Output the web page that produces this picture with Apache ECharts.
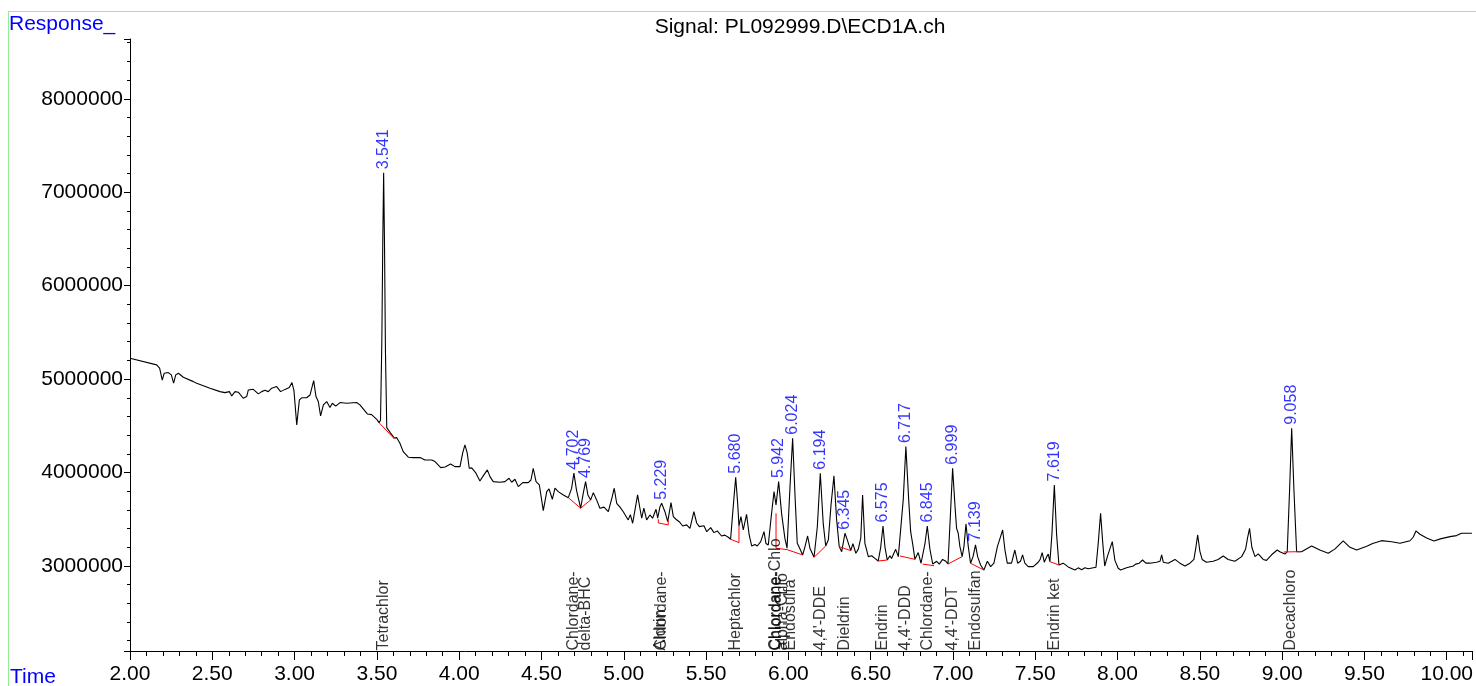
<!DOCTYPE html>
<html>
<head>
<meta charset="utf-8">
<script src="https://cdn.jsdelivr.net/npm/echarts@6/dist/echarts.min.js"></script>
<style>
html,body{margin:0;padding:0;background:#fff;}
#chart{width:1476px;height:686px;}
</style>
</head>
<body>
<div id="chart"></div>
<script>
// Chromatogram trace: [time (min), response]
const trace = [
[2.000,5224000],[2.162,5152000],[2.180,5117000],[2.196,4990000],[2.208,5063000],[2.233,5070000],[2.251,5045000],[2.265,4956000],[2.278,5045000],[2.294,5063000],[2.324,5020000],[2.385,4973000],[2.405,4956000],[2.486,4903000],[2.547,4866000],[2.577,4855000],[2.604,4866000],[2.618,4820000],[2.638,4866000],[2.658,4860000],[2.688,4795000],[2.709,4813000],[2.719,4884000],[2.749,4891000],[2.780,4842000],[2.800,4866000],[2.820,4880000],[2.840,4866000],[2.861,4903000],[2.891,4920000],[2.915,4866000],[2.942,4890000],[2.968,4910000],[2.984,4963000],[2.996,4880000],[3.013,4510000],[3.029,4777000],[3.043,4800000],[3.073,4800000],[3.094,4830000],[3.104,4810000],[3.116,4984000],[3.130,4813000],[3.144,4760000],[3.158,4606000],[3.175,4724000],[3.195,4760000],[3.215,4695000],[3.229,4742000],[3.250,4710000],[3.276,4749000],[3.317,4742000],[3.377,4749000],[3.397,4724000],[3.442,4627000],[3.468,4620000],[3.499,4570000],[3.513,4534000],[3.522,4560000],[3.530,5400000],[3.536,6500000],[3.541,7208000],[3.546,6500000],[3.552,5300000],[3.560,4480000],[3.580,4430000],[3.606,4370000],[3.620,4374000],
[3.640,4314000],[3.660,4224000],[3.691,4164000],[3.721,4160000],[3.762,4160000],[3.792,4135000],[3.833,4135000],[3.853,4117000],[3.865,4130000],[3.888,4053000],[3.914,4060000],[3.948,4092000],[3.974,4063000],[4.005,4063000],[4.021,4207000],[4.035,4296000],[4.049,4207000],[4.061,4046000],[4.076,4050000],[4.102,3993000],[4.126,3910000],[4.146,3964000],[4.171,4028000],[4.187,3956000],[4.207,3903000],[4.248,3896000],[4.278,3903000],[4.303,3939000],[4.319,3896000],[4.339,3928000],[4.359,3849000],[4.386,3892000],[4.420,3892000],[4.436,3920000],[4.450,4046000],[4.467,3903000],[4.487,3867000],[4.511,3592000],[4.532,3796000],[4.546,3824000],[4.566,3714000],[4.582,3832000],[4.602,3796000],[4.633,3760000],[4.663,3731000],[4.683,3830000],[4.697,3993000],[4.713,3810000],[4.738,3618000],[4.754,3780000],[4.768,3903000],[4.782,3760000],[4.799,3707000],[4.815,3785000],[4.835,3707000],[4.855,3618000],[4.880,3630000],[4.906,3581000],[4.930,3742000],[4.942,3832000],[4.957,3671000],[4.977,3630000],[4.997,3580000],[5.027,3493000],[5.040,3550000],[5.054,3457000],[5.070,3620000],[5.084,3760000],
[5.098,3618000],[5.109,3511000],[5.122,3618000],[5.139,3493000],[5.159,3546000],[5.175,3511000],[5.196,3607000],[5.206,3511000],[5.220,3635000],[5.230,3671000],[5.250,3581000],[5.267,3474000],[5.287,3678000],[5.301,3528000],[5.317,3500000],[5.337,3474000],[5.358,3428000],[5.382,3440000],[5.402,3403000],[5.426,3581000],[5.443,3460000],[5.459,3421000],[5.487,3430000],[5.504,3367000],[5.528,3410000],[5.548,3357000],[5.568,3375000],[5.594,3321000],[5.614,3330000],[5.635,3307000],[5.649,3286000],[5.665,3635000],[5.680,3950000],[5.692,3670000],[5.700,3428000],[5.712,3528000],[5.726,3385000],[5.746,3553000],[5.762,3332000],[5.777,3214000],[5.797,3230000],[5.811,3214000],[5.832,3260000],[5.852,3367000],[5.864,3240000],[5.878,3225000],[5.898,3564000],[5.913,3796000],[5.925,3653000],[5.941,3903000],[5.959,3560000],[5.979,3296000],[5.992,3190000],[6.010,3849000],[6.026,4367000],[6.042,3690000],[6.054,3243000],[6.066,3200000],[6.087,3118000],[6.100,3200000],[6.117,3321000],[6.131,3190000],[6.156,3093000],[6.176,3420000],[6.194,3993000],[6.212,3450000],[6.227,3214000],[6.243,3280000],[6.259,3650000],[6.277,3964000],[6.293,3500000],[6.309,3207000],[6.324,3153000],[6.344,3350000],[6.358,3280000],[6.379,3164000],[6.392,3240000],[6.410,3136000],[6.425,3180000],[6.440,3300000],[6.451,3760000],
[6.465,3243000],[6.486,3100000],[6.506,3110000],[6.526,3082000],[6.546,3053000],[6.561,3200000],[6.575,3428000],[6.587,3200000],[6.601,3064000],[6.617,3110000],[6.627,3080000],[6.652,3178000],[6.668,3100000],[6.678,3107000],[6.698,3710000],[6.714,4278000],[6.731,3710000],[6.743,3367000],[6.755,3240000],[6.769,3071000],[6.789,3143000],[6.806,3029000],[6.816,3020000],[6.830,3240000],[6.844,3428000],[6.860,3180000],[6.877,3021000],[6.885,3003000],[6.901,3050000],[6.917,3020000],[6.937,3070000],[6.957,3050000],[6.970,3021000],[6.986,3600000],[6.998,4046000],[7.014,3600000],[7.022,3403000],[7.032,3350000],[7.042,3210000],[7.056,3100000],[7.067,3210000],[7.079,3450000],[7.093,3210000],[7.107,3029000],[7.122,3100000],[7.137,3225000],[7.150,3100000],[7.168,3010000],[7.188,2957000],[7.209,3050000],[7.229,2993000],[7.249,3030000],[7.270,3207000],[7.282,3190000],[7.302,3385000],[7.316,3170000],[7.330,3030000],[7.356,3030000],[7.376,3171000],[7.393,3030000],[7.410,3050000],[7.423,3118000],[7.437,3030000],[7.457,2993000],[7.488,2993000],[7.518,3040000],[7.530,3070000],[7.542,3143000],[7.555,3040000],[7.570,3100000],[7.579,3128000],[7.589,3046000],[7.601,3330000],[7.616,3867000],[7.630,3330000],[7.644,3011000],[7.670,3030000],[7.700,2990000],
[7.741,2957000],[7.761,2980000],[7.782,2960000],[7.802,2980000],[7.822,2970000],[7.869,2986000],[7.883,3250000],[7.897,3564000],[7.910,3250000],[7.922,3000000],[7.940,3110000],[7.968,3260000],[7.984,3060000],[8.004,2975000],[8.019,2957000],[8.055,2980000],[8.096,3000000],[8.110,3020000],[8.120,3000000],[8.132,3030000],[8.142,3015000],[8.152,3064000],[8.172,3030000],[8.197,3030000],[8.237,3040000],[8.258,3050000],[8.268,3118000],[8.278,3040000],[8.308,3030000],[8.349,3070000],[8.379,3030000],[8.410,3000000],[8.440,3030000],[8.464,3070000],[8.476,3200000],[8.487,3332000],[8.500,3160000],[8.514,3070000],[8.540,3040000],[8.581,3050000],[8.611,3070000],[8.642,3107000],[8.672,3070000],[8.713,3050000],[8.754,3100000],[8.778,3180000],[8.790,3300000],[8.802,3403000],[8.816,3200000],[8.835,3100000],[8.855,3130000],[8.865,3125000],[8.885,3070000],[8.905,3060000],[8.936,3120000],[8.970,3171000],[8.986,3153000],[9.017,3128000],[9.031,3153000],[9.045,3800000],[9.058,4474000],[9.072,3800000],[9.088,3153000],[9.118,3153000],[9.179,3214000],[9.229,3170000],[9.280,3136000],[9.320,3180000],[9.371,3268000],[9.412,3200000],[9.453,3171000],[9.514,3210000],[9.550,3240000],[9.604,3271000],[9.665,3260000],[9.716,3243000],[9.777,3270000],[9.797,3310000],[9.813,3375000],[9.837,3340000],[9.878,3300000],[9.922,3268000],[9.962,3290000],[10.020,3314000],[10.060,3325000],[10.090,3350000],[10.153,3350000]
];

// Integration baselines (red)
const baselines = [
[[3.513,4534000],[3.606,4360000]],
[[4.663,3731000],[4.738,3618000],[4.799,3707000]],
[[5.210,3500000],[5.210,3460000],[5.270,3440000],[5.270,3490000]],
[[5.649,3286000],[5.700,3250000],[5.700,3428000]],
[[5.925,3564000],[5.925,3190000],[5.992,3175000],[6.087,3118000]],
[[6.156,3093000],[6.227,3214000]],
[[6.309,3207000],[6.379,3164000]],
[[6.546,3053000],[6.601,3064000]],
[[6.678,3107000],[6.769,3071000]],
[[6.816,3020000],[6.885,3003000]],
[[6.970,3021000],[7.056,3100000]],
[[7.107,3029000],[7.188,2957000]],
[[7.589,3046000],[7.644,3011000]],
[[9.010,3150000],[9.110,3153000]]
];

// Retention time labels
const peakTimes   = [3.541,4.697,4.768,5.230,5.680,5.941,6.026,6.194,6.344,6.575,6.714,6.844,6.998,7.137,7.616,9.058];
const peakHeights = [7208000,3993000,3903000,3671000,3950000,3903000,4367000,3993000,3350000,3428000,4278000,3428000,4046000,3225000,3867000,4474000];
const peakTexts   = ['3.541','4.702','4.769','5.229','5.680','5.942','6.024','6.194','6.345','6.575','6.717','6.845','6.999','7.139','7.619','9.058'];

// Compound names
const compoundTimes = [3.541,4.697,4.768,5.222,5.229,5.680,5.925,5.930,5.965,6.014,6.194,6.344,6.575,6.714,6.844,6.998,7.137,7.616,9.052];
const compoundTexts = ['Tetrachlor','Chlordane-','delta-BHC','Aldrin','Chlordane-','Heptachlor','Chlordane-Chlo','Chlordane-','alpha-Chlo','Endosulfa','4,4\'-DDE','Dieldrin','Endrin','4,4\'-DDD','Chlordane-','4,4\'-DDT','Endosulfan','Endrin ket','Decachloro'];

const xTicks = {min: 2.0, max: 10.153, interval: 0.5};
const yRange = {min: 2090000, max: 8640000};

const FONT = 'Liberation Sans, Arial, sans-serif';
const chart = echarts.init(document.getElementById('chart'), null, {renderer: 'canvas'});

const series = [{
  type: 'line', data: trace, showSymbol: false, symbol: 'none', silent: true,
  lineStyle: {color: '#000', width: 1.1}, z: 3
}];
baselines.forEach(b => series.push({
  type: 'line', data: b, showSymbol: false, symbol: 'none', silent: true,
  lineStyle: {color: '#ff0000', width: 1}, z: 4
}));
series.push({
  type: 'scatter', silent: true, symbolSize: 1, itemStyle: {color: 'rgba(0,0,0,0)'},
  data: peakTimes.map((t, i) => [t, peakHeights[i], peakTexts[i]]),
  label: {show: true, formatter: p => p.data[2], position: 'top', distance: 3, rotate: 90,
    align: 'left', verticalAlign: 'middle', color: '#0000ff', fontSize: 16, fontFamily: FONT},
  z: 5
});
series.push({
  type: 'scatter', silent: true, symbolSize: 1, itemStyle: {color: 'rgba(0,0,0,0)'},
  data: compoundTimes.map((t, i) => [t, yRange.min, compoundTexts[i]]),
  label: {show: true, formatter: p => p.data[2], position: 'top', distance: 0, rotate: 90,
    align: 'left', verticalAlign: 'middle', color: '#000', fontSize: 16, fontFamily: FONT},
  z: 5
});

chart.setOption({
  animation: false,
  backgroundColor: '#fff',
  grid: {left: 130, right: 4, top: 39, bottom: 35, containLabel: false},
  xAxis: {
    type: 'value', min: xTicks.min, max: xTicks.max, interval: xTicks.interval,
    axisLine: {show: true, onZero: false, lineStyle: {color: '#000', width: 1}},
    axisTick: {show: true, inside: false, length: 9, lineStyle: {color: '#000'}},
    minorTick: {show: true, splitNumber: 5, length: 5, lineStyle: {color: '#000'}},
    splitLine: {show: false},
    axisLabel: {show: true, margin: 13, color: '#000', fontSize: 21, fontFamily: FONT,
      formatter: v => v.toFixed(2), showMaxLabel: false}
  },
  yAxis: {
    type: 'value', min: yRange.min, max: yRange.max, splitNumber: 6,
    axisLine: {show: true, onZero: false, lineStyle: {color: '#000', width: 1}},
    axisTick: {show: true, inside: false, length: 6, lineStyle: {color: '#000'}},
    minorTick: {show: true, splitNumber: 5, length: 3, lineStyle: {color: '#000'}},
    splitLine: {show: false},
    axisLabel: {show: true, margin: 7, color: '#000', fontSize: 21, fontFamily: FONT,
      showMinLabel: false, showMaxLabel: false, formatter: v => String(v)}
  },
  graphic: [
    {type: 'line', shape: {x1: 8, y1: 11.5, x2: 1476, y2: 11.5}, style: {stroke: '#90ee90', lineWidth: 1}, silent: true},
    {type: 'line', shape: {x1: 8.5, y1: 11, x2: 8.5, y2: 686}, style: {stroke: '#90ee90', lineWidth: 1}, silent: true},
    {type: 'text', left: 9, top: 14, style: {text: 'Response_', fill: '#0000ff', font: '21px ' + FONT}, silent: true},
    {type: 'text', left: 10, top: 667, style: {text: 'Time', fill: '#0000ff', font: '21px ' + FONT}, silent: true},
    {type: 'text', x: 800, y: 27, style: {text: 'Signal: PL092999.D\\ECD1A.ch', fill: '#000', font: '21px ' + FONT, textAlign: 'center', textVerticalAlign: 'middle'}, silent: true}
  ],
  series: series
});
</script>
</body>
</html>
